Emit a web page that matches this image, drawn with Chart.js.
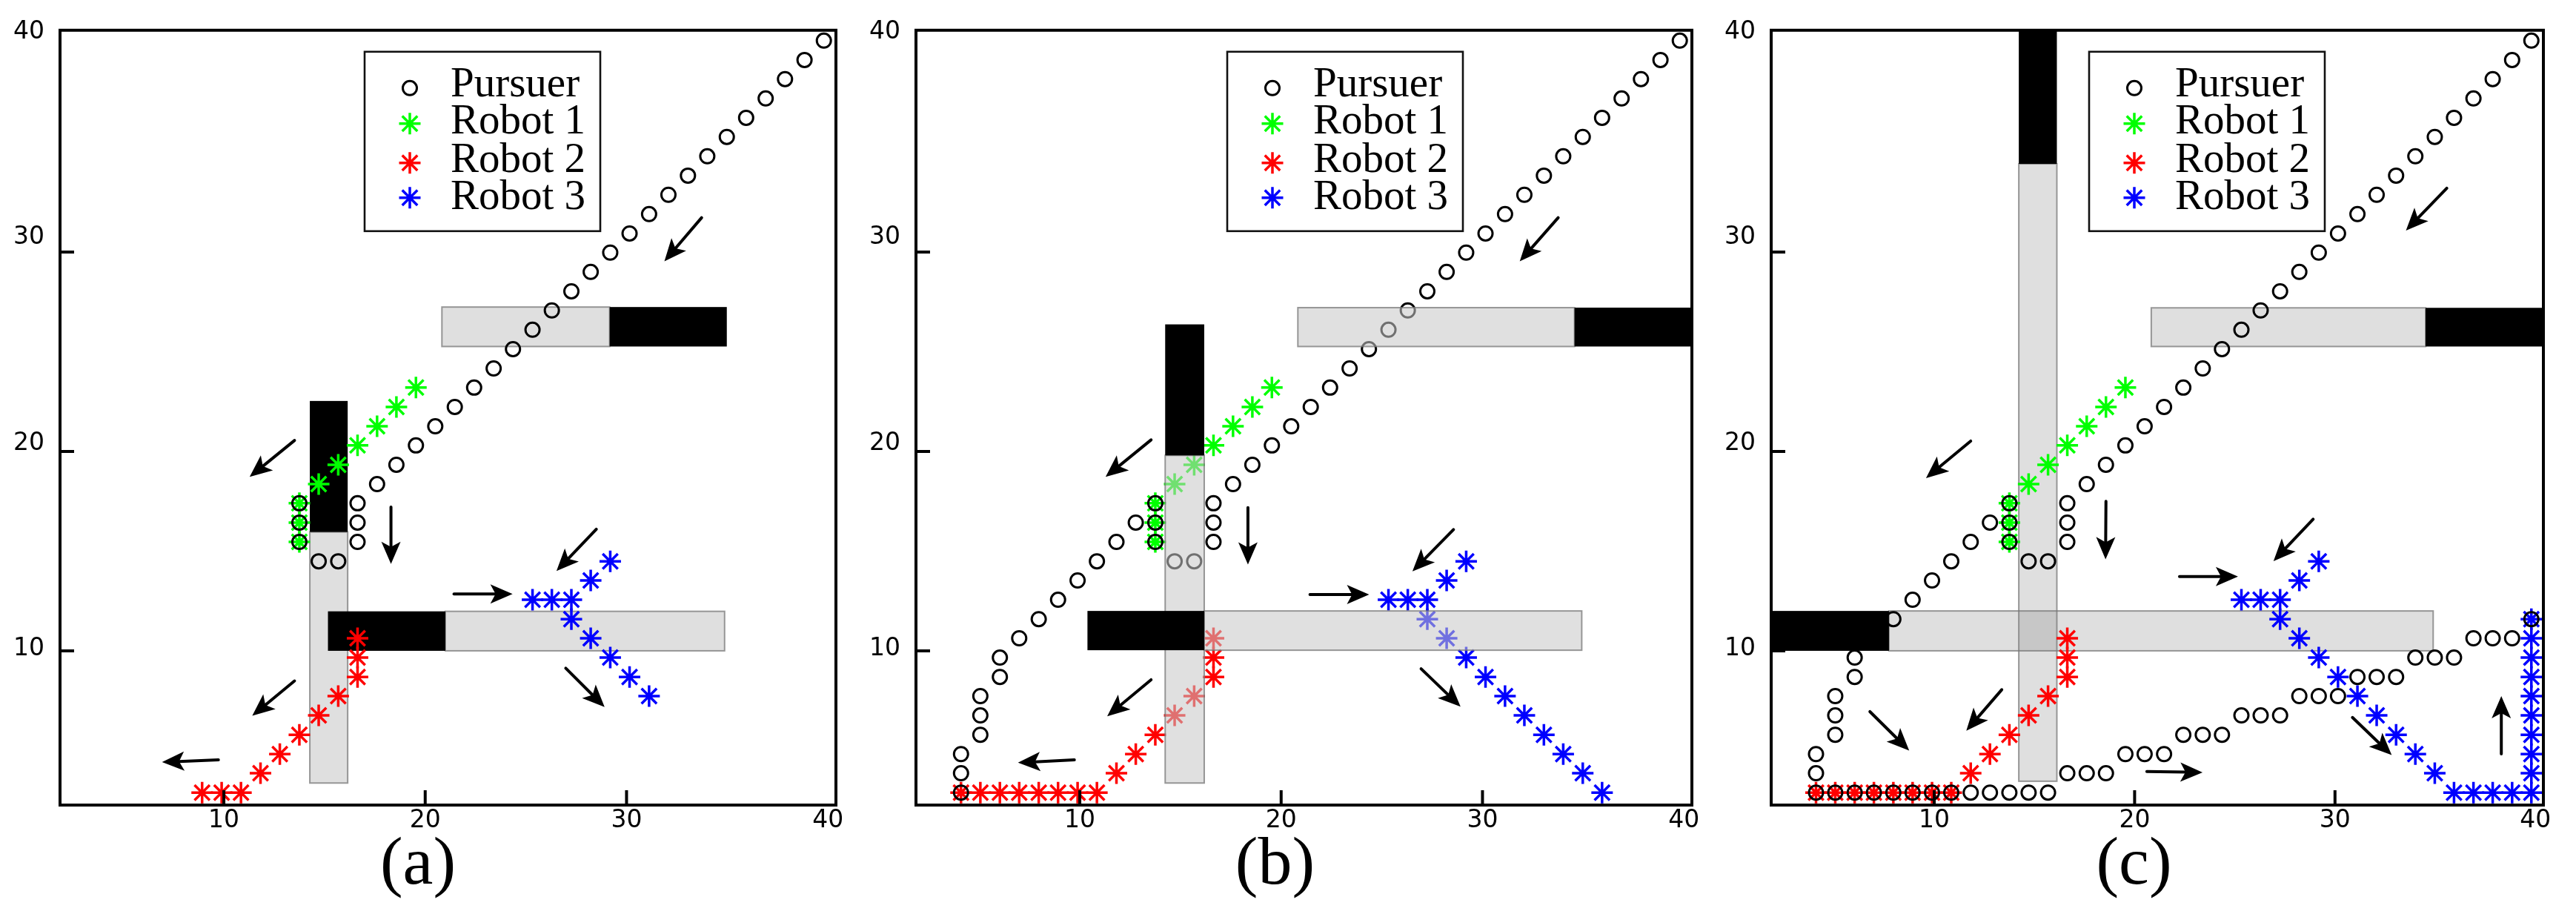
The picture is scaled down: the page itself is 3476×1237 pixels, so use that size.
<!DOCTYPE html>
<html><head><meta charset="utf-8">
<script src="https://cdn.jsdelivr.net/npm/chart.js@4"></script>
<style>
html,body{margin:0;padding:0;background:#fff;}
body{width:3476px;height:1237px;position:relative;overflow:hidden;}
.panel{position:absolute;top:0;height:1237px;}
</style></head><body>
<div class="panel" style="left:0px;width:1158px"><canvas id="ca"></canvas></div>
<div class="panel" style="left:1158px;width:1144px"><canvas id="cb"></canvas></div>
<div class="panel" style="left:2322px;width:1128px"><canvas id="cc"></canvas></div>
<script>
// ---------- axis values ----------
const xTicks = [10, 20, 30, 40];
const yTicks = [10, 20, 30, 40];
const tickMarks = [10, 20, 30];
const xRange = [1.863, 40.40];
const yRange = [2.265, 41.12];
const yLabelRange = [2.43, 40.09];

// ---------- series ----------
const pursuerA = [[39.80,40.60],[38.84,39.63],[37.87,38.67],[36.91,37.70],[35.94,36.73],[34.98,35.77],[34.01,34.80],[33.05,33.83],[32.08,32.87],[31.12,31.90],[30.15,30.93],[29.19,29.97],[28.22,29.00],[27.26,28.03],[26.29,27.07],[25.33,26.10],[24.36,25.13],[23.40,24.16],[22.43,23.20],[21.47,22.23],[20.50,21.26],[19.54,20.30],[18.57,19.33],[17.61,18.36],[16.64,17.40],[16.64,16.43],[16.64,15.46],[15.68,14.49],[14.71,14.49],[13.75,15.46],[13.75,16.43],[13.75,17.40]];
const pursuerTailB = [[12.78,16.43],[11.82,15.46],[10.85,14.49],[9.89,13.53],[8.92,12.56],[7.96,11.59],[6.99,10.63],[6.03,9.66],[6.03,8.69],[5.06,7.73],[5.06,6.76],[5.06,5.79],[4.10,4.82],[4.10,3.86],[4.10,2.89]];
const pursuerTailC = [[5.06,2.89],[6.03,2.89],[6.99,2.89],[7.96,2.89],[8.92,2.89],[9.89,2.89],[10.85,2.89],[11.82,2.89],[12.78,2.89],[13.75,2.89],[14.71,2.89],[15.68,2.89],[16.64,3.86],[17.61,3.86],[18.57,3.86],[19.54,4.82],[20.50,4.82],[21.47,4.82],[22.43,5.79],[23.40,5.79],[24.36,5.79],[25.33,6.76],[26.29,6.76],[27.26,6.76],[28.22,7.73],[29.19,7.73],[30.15,7.73],[31.12,8.69],[32.08,8.69],[33.05,8.69],[34.01,9.66],[34.98,9.66],[35.94,9.66],[36.91,10.63],[37.87,10.63],[38.84,10.63],[39.80,11.59]];
const robot1 = [[19.54,23.20],[18.57,22.23],[17.61,21.26],[16.64,20.30],[15.68,19.33],[14.71,18.36],[13.75,17.40],[13.75,16.43],[13.75,15.46]];
const robot2A = [[16.64,10.63],[16.64,9.66],[16.64,8.69],[15.68,7.73],[14.71,6.76],[13.75,5.79],[12.78,4.82],[11.82,3.86],[10.85,2.89],[9.89,2.89],[8.92,2.89]];
const robot2Tail = [[7.96,2.89],[6.99,2.89],[6.03,2.89],[5.06,2.89],[4.10,2.89]];
const robot3A = [[29.19,14.49],[28.22,13.53],[27.26,12.56],[26.29,12.56],[25.33,12.56],[27.26,11.59],[28.22,10.63],[29.19,9.66],[30.15,8.69],[31.12,7.73]];
const robot3TailB = [[32.08,6.76],[33.05,5.79],[34.01,4.82],[34.98,3.86],[35.94,2.89]];
const robot3TailC = [[36.91,2.89],[37.87,2.89],[38.84,2.89],[39.80,2.89],[39.80,3.86],[39.80,4.82],[39.80,5.79],[39.80,6.76],[39.80,7.73],[39.80,8.69],[39.80,9.66],[39.80,10.63],[39.80,11.59]];

const pursuerB = pursuerA.concat(pursuerTailB);
const pursuerC = pursuerB.concat(pursuerTailC);
const robot2B = robot2A.concat(robot2Tail);
const robot3B = robot3A.concat(robot3TailB);
const robot3C = robot3B.concat(robot3TailC);

// ---------- obstacles [x1, x2, y1, y2] ----------
const grayA  = [[20.83,29.16,25.26,27.24],[14.27,16.15,3.37,15.96],[21.00,34.87,10.00,11.98]];
const blackA = [[29.16,34.98,25.26,27.24],[14.27,16.15,15.96,22.53],[15.17,21.00,10.00,11.98]];
const grayB  = [[20.83,34.57,25.26,27.21],[14.24,16.18,3.37,19.80],[16.18,34.93,10.03,12.00]];
const blackB = [[34.57,40.50,25.26,27.21],[14.24,16.18,19.80,26.37],[10.38,16.18,10.03,12.00]];
const grayC  = [[20.83,34.52,25.26,27.20],[14.22,16.12,3.46,34.42],[7.74,34.90,10.00,12.00]];
const blackC = [[34.52,40.50,25.26,27.20],[14.22,16.12,34.42,41.20],[1.80,7.74,10.00,12.00]];

// ---------- arrows [x1, y1, x2(tip), y2(tip)] ----------
const arrowsA = [[33.73,31.72,31.88,29.53],[13.51,20.55,11.28,18.72],[18.30,17.21,18.30,14.36],[21.43,12.85,24.34,12.85],[28.50,16.10,26.52,14.00],[13.51,8.49,11.41,6.74],[9.73,4.53,6.93,4.42],[26.98,9.13,28.91,7.18]];
const arrowsB = [[33.76,31.72,31.85,29.53],[13.54,20.58,11.28,18.72],[18.35,17.18,18.35,14.33],[21.43,12.82,24.37,12.82],[28.56,16.08,26.52,13.98],[13.54,8.55,11.36,6.72],[9.73,4.53,6.93,4.39],[26.95,9.10,28.91,7.20]];
const arrowsC = [[35.58,33.20,33.54,31.08],[11.82,20.52,9.59,18.66],[18.57,17.50,18.55,14.59],[22.24,13.72,25.16,13.72],[28.91,16.60,26.93,14.50],[13.37,8.05,11.60,5.99],[6.79,6.95,8.75,5.00],[20.61,3.95,23.39,3.90],[30.87,6.66,32.83,4.77],[38.30,4.83,38.30,7.73]];

const seriesLabels = ['Pursuer', 'Robot 1', 'Robot 2', 'Robot 3'];

// ---------- drawing helpers ----------
function drawMarker(ctx, style, r, lw, color, x, y) {
  ctx.save(); ctx.strokeStyle = color; ctx.lineWidth = lw; ctx.beginPath();
  if (style === 'circle') { ctx.arc(x, y, r, 0, Math.PI * 2); }
  else { for (let k = 0; k < 4; k++) { const a = k * Math.PI / 4; ctx.moveTo(x - Math.cos(a) * r, y - Math.sin(a) * r); ctx.lineTo(x + Math.cos(a) * r, y + Math.sin(a) * r); } }
  ctx.stroke(); ctx.restore();
}
function drawRects(chart, rects, fill, stroke) {
  const ctx = chart.ctx, a = chart.chartArea, xs = chart.scales.x, ys = chart.scales.y;
  ctx.save(); ctx.beginPath(); ctx.rect(a.left, a.top, a.right - a.left, a.bottom - a.top); ctx.clip();
  for (const [x1, x2, y1, y2] of rects) {
    const px1 = xs.getPixelForValue(x1), px2 = xs.getPixelForValue(x2);
    const py1 = ys.getPixelForValue(y2), py2 = ys.getPixelForValue(y1);
    ctx.fillStyle = fill; ctx.fillRect(px1, py1, px2 - px1, py2 - py1);
    if (stroke) { ctx.strokeStyle = stroke; ctx.lineWidth = 2; ctx.strokeRect(px1, py1, px2 - px1, py2 - py1); }
  }
  ctx.restore();
}
function drawArrow(ctx, x1, y1, x2, y2) {
  const ang = Math.atan2(y2 - y1, x2 - x1), c = Math.cos(ang), s = Math.sin(ang);
  const L = 30, W = 13, N = 7;
  ctx.save(); ctx.strokeStyle = '#000'; ctx.fillStyle = '#000'; ctx.lineWidth = 4; ctx.lineCap = 'round';
  ctx.beginPath(); ctx.moveTo(x1, y1); ctx.lineTo(x2 - (L - N) * c, y2 - (L - N) * s); ctx.stroke();
  const bx = x2 - L * c, by = y2 - L * s;
  ctx.beginPath(); ctx.moveTo(x2, y2);
  ctx.lineTo(bx - W * s, by + W * c);
  ctx.lineTo(x2 - (L - N) * c, y2 - (L - N) * s);
  ctx.lineTo(bx + W * s, by - W * c);
  ctx.closePath(); ctx.fill(); ctx.restore();
}

function makeScene(p) {
  const grayFill = 'rgba(128,128,128,0.25)', grayStroke = 'rgba(120,120,120,0.75)';
  return {
    id: 'scene',
    beforeDatasetsDraw(chart) {
      if (!p.grayOnTop) { drawRects(chart, p.gray, grayFill, grayStroke); drawRects(chart, p.black, '#000'); }
    },
    afterDatasetsDraw(chart) {
      const ctx = chart.ctx, a = chart.chartArea, xs = chart.scales.x, ys = chart.scales.y;
      if (p.grayOnTop) { drawRects(chart, p.gray, 'rgba(200,200,200,0.56)', grayStroke); drawRects(chart, p.black, '#000'); }
      for (const [x1, y1, x2, y2] of p.arrows) {
        drawArrow(ctx, xs.getPixelForValue(x1), ys.getPixelForValue(y1), xs.getPixelForValue(x2), ys.getPixelForValue(y2));
      }
      // inward tick marks
      ctx.save(); ctx.strokeStyle = '#000'; ctx.lineWidth = 4; ctx.beginPath();
      for (const v of tickMarks) {
        const px = xs.getPixelForValue(v); ctx.moveTo(px, a.bottom); ctx.lineTo(px, a.bottom - 20);
        const py = ys.getPixelForValue(v); ctx.moveTo(a.left, py); ctx.lineTo(a.left + 19, py);
      }
      ctx.stroke();
      // frame
      ctx.lineWidth = 4; ctx.strokeRect(a.left, a.top, a.right - a.left, a.bottom - a.top);
      ctx.restore();
      // legend
      const bx = a.left + p.legendDx, by = a.top + 29, bw = 318, bh = 242;
      ctx.save();
      ctx.fillStyle = '#fff'; ctx.fillRect(bx, by, bw, bh);
      ctx.strokeStyle = '#111'; ctx.lineWidth = 2.6; ctx.strokeRect(bx, by, bw, bh);
      const markRows = [49, 97, 150, 197];
      const textRows = [45, 95, 147, 197];
      chart.data.datasets.forEach((ds, i) => {
        drawMarker(ctx, ds.pointStyle, ds.pointRadius, ds.pointBorderWidth, ds.borderColor, bx + 61, by + markRows[i]);
        ctx.fillStyle = '#000'; ctx.font = '57px "Liberation Serif"'; ctx.textBaseline = 'middle'; ctx.textAlign = 'left';
        ctx.fillText(ds.label, bx + 116, by + textRows[i]);
      });
      ctx.restore();
    }
  };
}

const pts = arr => arr.map(([x, y]) => ({x, y}));

const panels = [
  {id: 'ca', title: '(a)', series: [pursuerA, robot1, robot2A, robot3A], gray: grayA, black: blackA, arrows: arrowsA, grayOnTop: false, yAxisW: 81, padR: 30, legendDx: 411},
  {id: 'cb', title: '(b)', series: [pursuerB, robot1, robot2B, robot3B], gray: grayB, black: blackB, arrows: arrowsB, grayOnTop: true, yAxisW: 78, padR: 19, legendDx: 420},
  {id: 'cc', title: '(c)', series: [pursuerC, robot1, robot2B, robot3C], gray: grayC, black: blackC, arrows: arrowsC, grayOnTop: false, yAxisW: 68, padR: 13, legendDx: 429}
];
const colors = ['#000000', '#00ff00', '#ff0000', '#0000ff'];

panels.forEach(p => {
  const datasets = p.series.map((s, i) => ({
    label: seriesLabels[i],
    data: pts(s),
    showLine: false,
    pointStyle: i === 0 ? 'circle' : 'star',
    pointRadius: i === 0 ? 9.5 : 14.5,
    pointHoverRadius: i === 0 ? 9.5 : 14.5,
    pointBorderWidth: i === 0 ? 3 : 3.5,
    borderColor: colors[i],
    backgroundColor: 'rgba(0,0,0,0)',
    clip: false
  }));
  new Chart(document.getElementById(p.id), {
    type: 'scatter',
    data: {datasets},
    options: {
      responsive: true, maintainAspectRatio: false, animation: false, events: [],
      layout: {padding: {left: 0, right: p.padR, top: 31, bottom: 23}},
      plugins: {
        legend: {display: false}, tooltip: {enabled: false},
        title: {display: true, text: p.title, position: 'bottom', color: '#000',
                font: {family: 'Liberation Serif', size: 92, weight: 'normal', lineHeight: 1}, padding: {top: 0, bottom: 0}}
      },
      scales: {
        x: {type: 'linear', min: xRange[0], max: xRange[1],
            afterBuildTicks: s => { s.ticks = xTicks.map(v => ({value: v})); },
            afterFit: s => { s.height = 36; },
            grid: {display: false, drawTicks: false}, border: {display: false},
            ticks: {color: '#000', font: {family: 'DejaVu Sans', size: 33}, padding: 2, maxRotation: 0, autoSkip: false}},
        y: {type: 'linear', display: false, min: yRange[0], max: yRange[1]},
        y2: {type: 'linear', position: 'left', min: yLabelRange[0], max: yLabelRange[1],
             afterBuildTicks: s => { s.ticks = yTicks.map(v => ({value: v})); },
             afterFit: s => { s.width = p.yAxisW; },
             grid: {display: false, drawTicks: false}, border: {display: false},
             ticks: {color: '#000', font: {family: 'DejaVu Sans', size: 33}, padding: 21, autoSkip: false}}
      }
    },
    plugins: [makeScene(p)]
  });
});
</script>
</body></html>
